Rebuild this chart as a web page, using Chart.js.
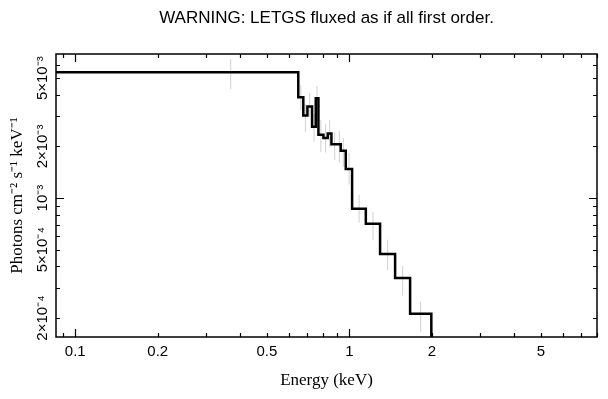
<!DOCTYPE html>
<html lang="en">
<head>
<meta charset="UTF-8">
<title>LETGS fluxed spectrum</title>
<script src="https://cdn.jsdelivr.net/npm/chart.js"></script>
<style>
  body { margin: 0; background: #fff; }
</style>
</head>
<body>
<canvas id="chart" width="608" height="399"></canvas>
<script>
// histogram bins: left edges (keV, last value = right edge of last bin) and flux per bin
const binEdges = [0.08, 0.651, 0.679, 0.703, 0.731, 0.754, 0.771, 0.804, 0.834, 0.860,
                  0.894, 0.930, 0.970, 1.023, 1.148, 1.294, 1.468, 1.665, 1.99];
const binFlux = [5.42e-3, 3.87e-3, 3.03e-3, 3.42e-3, 2.61e-3, 3.82e-3, 2.34e-3, 2.24e-3, 2.38e-3,
                 2.06e-3, 2.06e-3, 1.89e-3, 1.48e-3, 8.67e-4, 7.09e-4, 4.72e-4, 3.42e-4, 2.12e-4];

// error bars (grey)
const errEnergy = [0.369, 0.665, 0.691, 0.717, 0.743, 0.762, 0.787, 0.819, 0.847,
                   0.884, 0.919, 0.950, 0.997, 1.085, 1.219, 1.379, 1.564, 1.819];
const errLow = [4.31e-3, 3.27e-3, 2.43e-3, 2.98e-3, 2.13e-3, 3.18e-3, 1.86e-3, 1.84e-3, 1.99e-3,
                1.67e-3, 1.61e-3, 1.52e-3, 1.20e-3, 7.18e-4, 5.72e-4, 3.82e-4, 2.70e-4, 1.66e-4];
const errHigh = [6.45e-3, 4.57e-3, 3.54e-3, 4.10e-3, 3.10e-3, 4.51e-3, 2.86e-3, 2.71e-3, 2.86e-3,
                 2.43e-3, 2.47e-3, 2.24e-3, 1.84e-3, 1.045e-3, 8.32e-4, 5.72e-4, 4.03e-4, 2.49e-4];

// axes
const xRange = [0.0851, 8.0];
const yRange = [1.55e-4, 6.92e-3];
const xTickValues = [0.1, 0.2, 0.5, 1, 2, 5];
const xTickText = ['0.1', '0.2', '0.5', '1', '2', '5'];
const xMinorTicks = [0.09, 0.3, 0.4, 0.6, 0.7, 0.8, 0.9, 3, 4, 6, 7, 8];
const yTickValues = [2e-4, 5e-4, 1e-3, 2e-3, 5e-3];
const yTickText = ['2\u00d710\u207b\u2074', '5\u00d710\u207b\u2074', '10\u207b\u00b3', '2\u00d710\u207b\u00b3', '5\u00d710\u207b\u00b3'];
const yMinorTicks = [3e-4, 4e-4, 6e-4, 7e-4, 8e-4, 9e-4, 3e-3, 4e-3, 6e-3];

const sans = "'Liberation Sans', Arial, sans-serif";
const serif = "'Liberation Serif', 'Times New Roman', serif";

// step line: one point per bin start, then close at the last edge and drop off the bottom
const stepData = binFlux.map((f, i) => ({ x: binEdges[i], y: f }));
stepData.push({ x: binEdges[binEdges.length - 1], y: binFlux[binFlux.length - 1] });
stepData.push({ x: binEdges[binEdges.length - 1], y: yRange[0] / 2 });

const errData = [];
errEnergy.forEach((e, i) => {
    errData.push({ x: e, y: errLow[i] }, { x: e, y: errHigh[i] }, { x: e, y: null });
});

function isDecade(v) {
    const l = Math.log10(v);
    return Math.abs(l - Math.round(l)) < 1e-9;
}

// box frame with inward ticks on all four sides
const frameTicks = {
    id: 'frameTicks',
    afterDatasetsDraw(chart) {
        const { ctx, chartArea: a, scales: { x, y } } = chart;
        ctx.save();
        ctx.strokeStyle = '#000';
        ctx.lineWidth = 1.2;
        ctx.beginPath();
        xTickValues.concat(xMinorTicks).forEach(v => {
            const px = Math.round(x.getPixelForValue(v)) + 0.5;
            const len = isDecade(v) ? 8 : 4;
            ctx.moveTo(px, a.bottom); ctx.lineTo(px, a.bottom - len);
            ctx.moveTo(px, a.top); ctx.lineTo(px, a.top + len);
        });
        yTickValues.concat(yMinorTicks).forEach(v => {
            const py = Math.round(y.getPixelForValue(v)) + 0.5;
            const len = isDecade(v) ? 8 : 4;
            ctx.moveTo(a.left, py); ctx.lineTo(a.left + len, py);
            ctx.moveTo(a.right, py); ctx.lineTo(a.right - len, py);
        });
        ctx.stroke();
        ctx.lineWidth = 1.5;
        ctx.strokeRect(a.left, a.top, a.right - a.left, a.bottom - a.top);
        ctx.restore();
    }
};

new Chart(document.getElementById('chart'), {
    type: 'line',
    data: {
        datasets: [
            {
                data: stepData,
                stepped: 'before',
                borderColor: '#000',
                borderWidth: 2.5,
                pointRadius: 0,
                fill: false,
                clip: 0
            },
            {
                data: errData,
                borderColor: '#d0d0d0',
                borderWidth: 1,
                pointRadius: 0,
                spanGaps: false,
                fill: false,
                clip: 0
            }
        ]
    },
    options: {
        responsive: false,
        animation: false,
        layout: { padding: { left: 0, right: 11, top: 0, bottom: 0 } },
        plugins: {
            legend: { display: false },
            tooltip: { enabled: false },
            title: {
                display: true,
                text: 'WARNING: LETGS fluxed as if all first order.',
                fullSize: false,
                color: '#000',
                font: { family: sans, size: 17, weight: 'normal', lineHeight: 1.2 },
                padding: { top: 8, bottom: 25.6 }
            }
        },
        scales: {
            x: {
                type: 'logarithmic',
                min: xRange[0],
                max: xRange[1],
                grid: { display: false, drawTicks: false },
                border: { display: false },
                afterBuildTicks: s => { s.ticks = xTickValues.map(v => ({ value: v })); },
                afterFit: s => { s.height = 62; },
                ticks: {
                    autoSkip: false,
                    maxRotation: 0,
                    padding: 6,
                    color: '#000',
                    font: { family: sans, size: 15 },
                    callback: v => xTickText[xTickValues.indexOf(v)]
                },
                title: {
                    display: true,
                    text: 'Energy (keV)',
                    color: '#000',
                    font: { family: serif, size: 17, lineHeight: 1.2 },
                    padding: { top: 4, bottom: 8 }
                }
            },
            y: {
                type: 'logarithmic',
                min: yRange[0],
                max: yRange[1],
                grid: { display: false, drawTicks: false },
                border: { display: false },
                afterBuildTicks: s => { s.ticks = yTickValues.map(v => ({ value: v })); },
                afterFit: s => { s.width = 56; },
                ticks: {
                    autoSkip: false,
                    minRotation: 90,
                    maxRotation: 90,
                    crossAlign: 'center',
                    padding: -9,
                    color: '#000',
                    font: { family: sans, size: 15 },
                    callback: v => yTickText[yTickValues.indexOf(v)]
                },
                title: {
                    display: true,
                    text: 'Photons cm\u207b\u00b2 s\u207b\u00b9 keV\u207b\u00b9',
                    color: '#000',
                    font: { family: serif, size: 17, lineHeight: 1.2 },
                    padding: { top: 7, bottom: 0 }
                }
            }
        }
    },
    plugins: [frameTicks]
});
</script>
</body>
</html>
